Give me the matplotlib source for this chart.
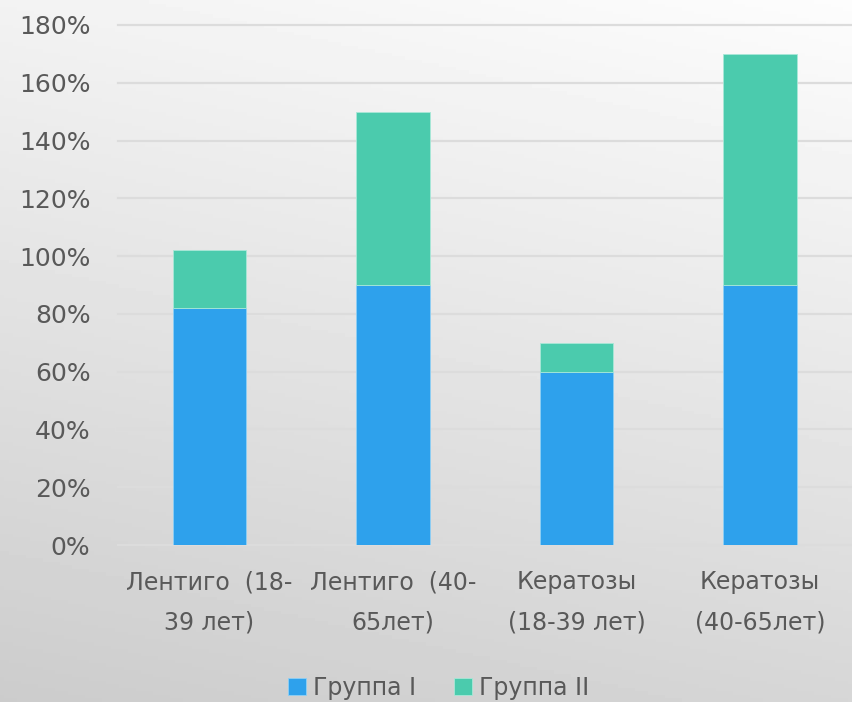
import numpy as np
import matplotlib
matplotlib.use("Agg")
import matplotlib.pyplot as plt
from matplotlib.ticker import FuncFormatter

categories = ["Лентиго  (18-\n39 лет)", "Лентиго  (40-\n65лет)",
              "Кератозы\n(18-39 лет)", "Кератозы\n(40-65лет)"]
group1 = [0.82, 0.90, 0.60, 0.90]
group2 = [0.20, 0.60, 0.10, 0.80]
series_names = ["Группа I", "Группа II"]

plt.rcParams["font.family"] = ["DejaVu Sans"]
text_col = "#595959"

fig = plt.figure(figsize=(8.52, 7.02), dpi=100)

# gradient background: light top-right, darker bottom-left
bg = fig.add_axes([0, 0, 1, 1], zorder=-10)
yy, xx = np.mgrid[0:1:200j, 0:1:200j]
shade = 0.80 + 0.15 * yy + 0.04 * xx
bg.imshow(np.clip(shade, 0, 1), cmap="gray", vmin=0, vmax=1,
          origin="lower", extent=[0, 1, 0, 1], aspect="auto")
bg.axis("off")

ax = fig.add_axes([0.138, 0.2236, 0.862, 0.7408])
ax.set_facecolor("none")
x = np.arange(len(categories))
ax.bar(x, group1, width=0.4, color="#2ea1ec", edgecolor="#8fd0f5", linewidth=0.6,
       label=series_names[0], zorder=3)
ax.bar(x, group2, width=0.4, bottom=group1, color="#4bcbad", edgecolor="#a9e8d8",
       linewidth=0.6, label=series_names[1], zorder=3)

ax.set_ylim(0, 1.8)
ax.set_xlim(-0.5, 3.5)
ax.set_yticks(np.arange(0, 1.81, 0.2))
ax.yaxis.set_major_formatter(FuncFormatter(lambda v, p: f"{v * 100:.0f}%"))
ax.grid(axis="y", color="#dcdcdc", linewidth=1.6, zorder=0)
for gl in ax.get_ygridlines():
    gl.set_clip_on(False)
for s in ax.spines.values():
    s.set_visible(False)
ax.tick_params(axis="y", length=0, pad=19.5, labelsize=18, labelcolor=text_col)
ax.tick_params(axis="x", length=0, pad=18, labelsize=17, labelcolor=text_col)
ax.set_xticks(x)
ax.set_xticklabels(categories, linespacing=1.85)

fig.legend(loc="lower center", bbox_to_anchor=(0.515, -0.027), ncol=2, frameon=False,
           fontsize=17, labelcolor=text_col, handlelength=0.75, handleheight=0.75,
           handletextpad=0.3, columnspacing=1.6)

fig.savefig("out.png", dpi=100)
